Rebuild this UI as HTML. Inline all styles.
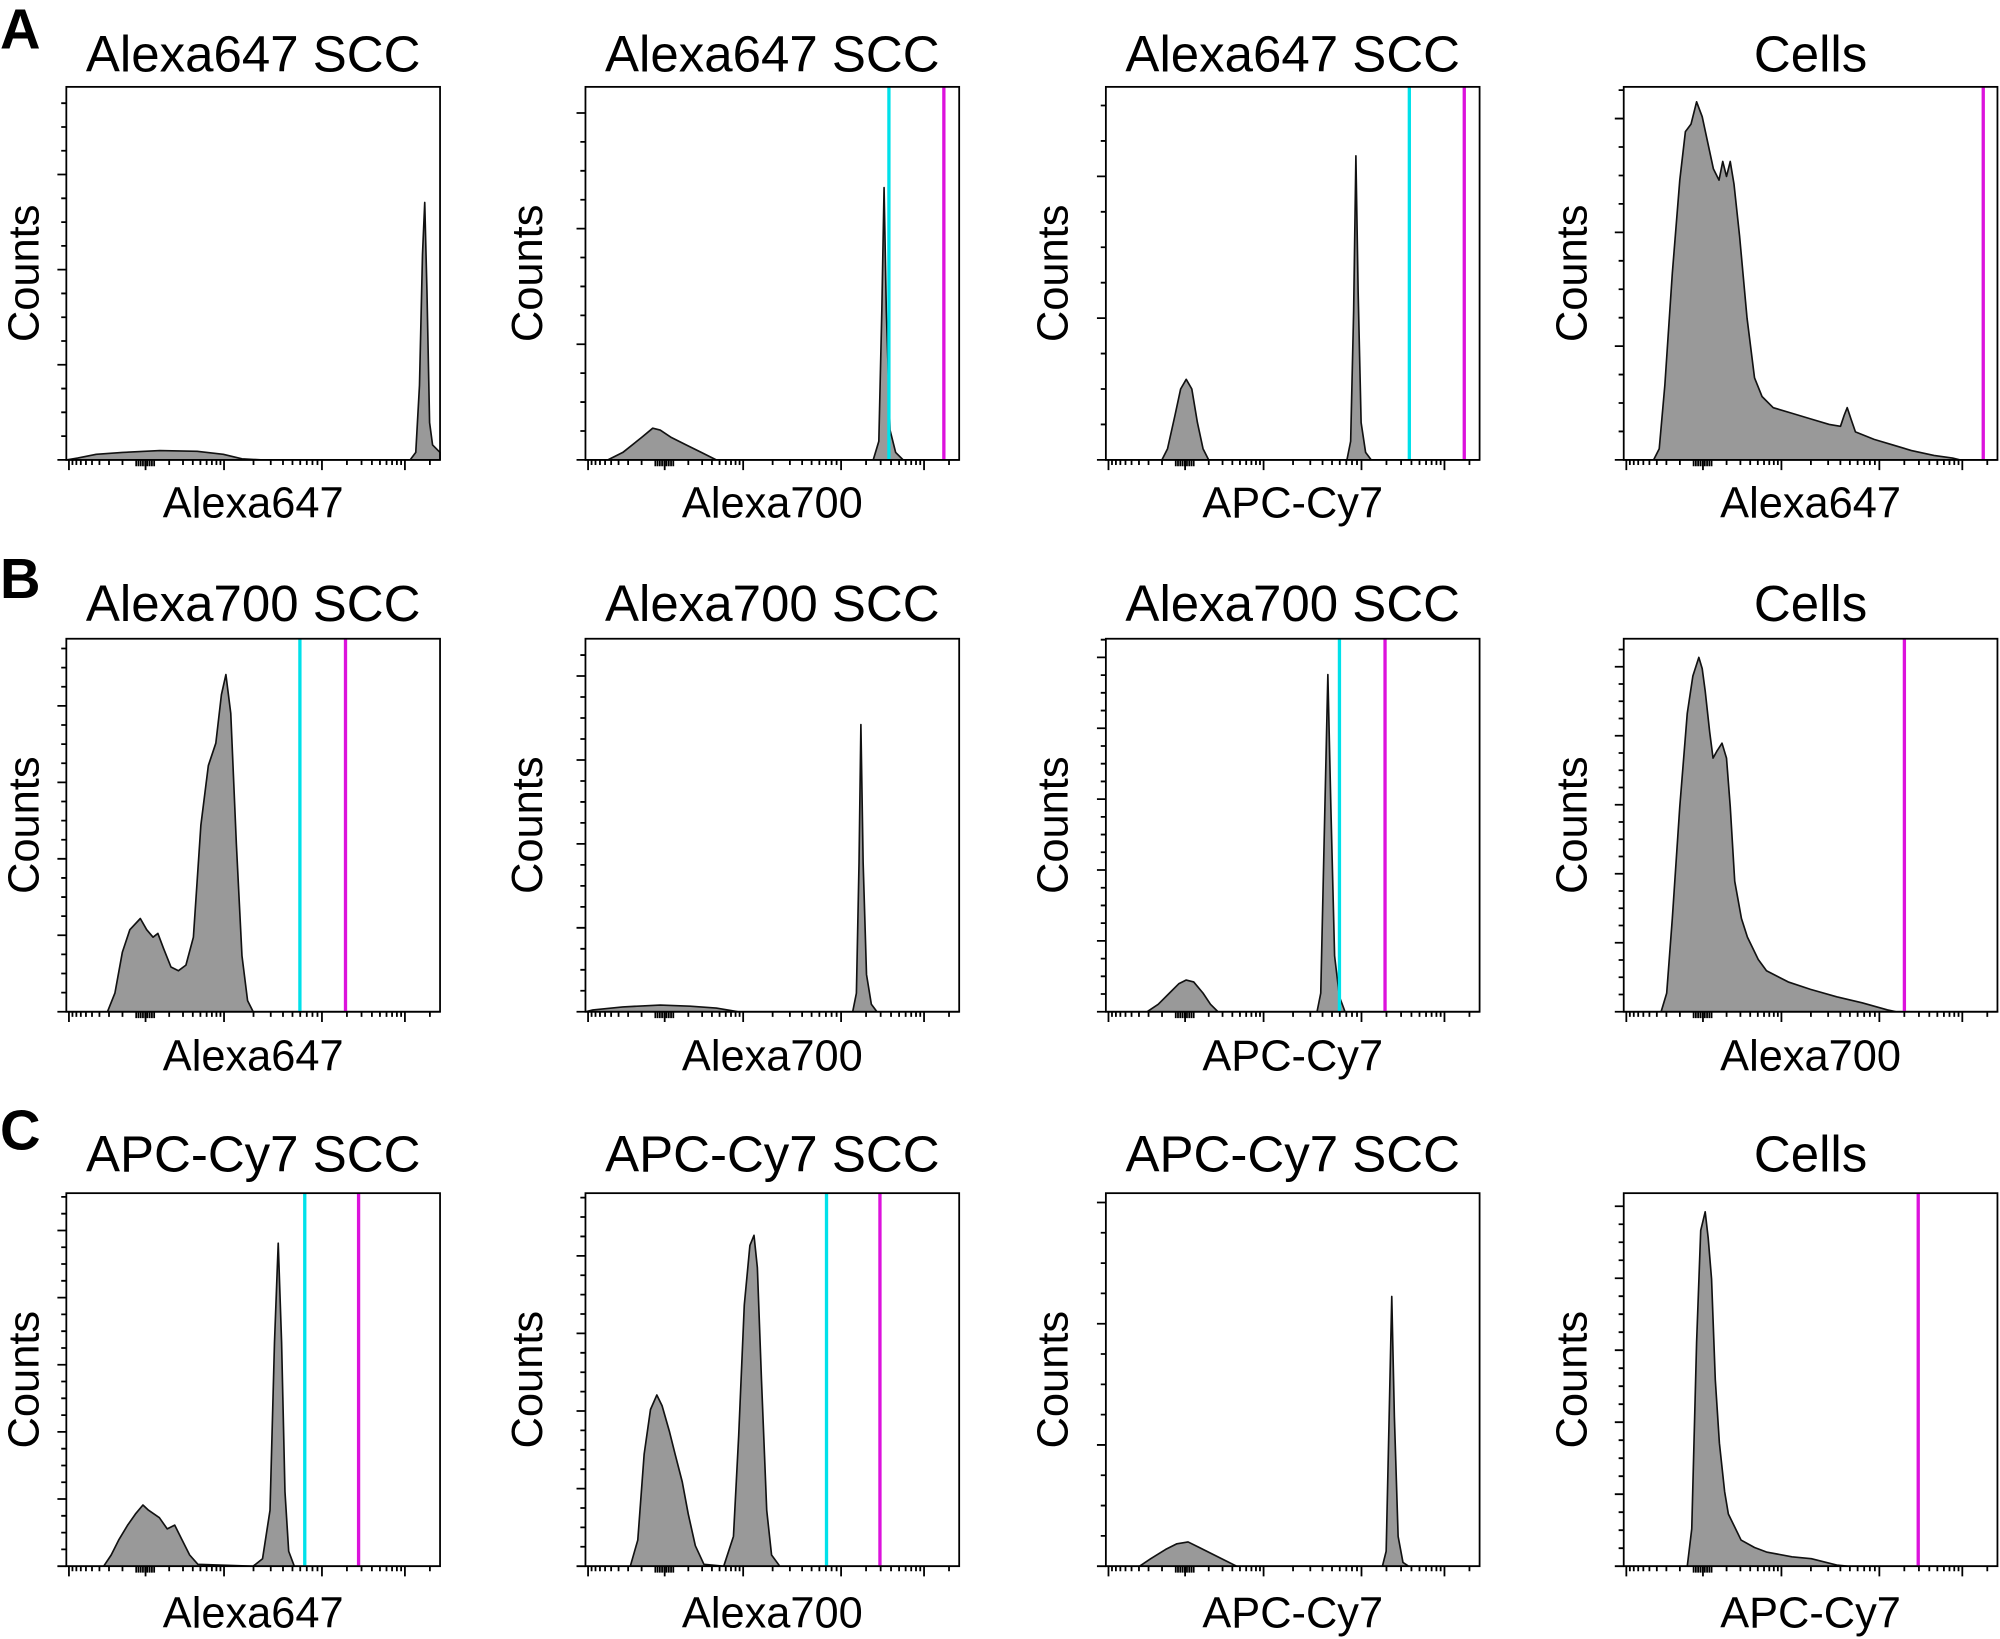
<!DOCTYPE html>
<html><head><meta charset="utf-8"><style>
html,body{margin:0;padding:0;background:#fff}
svg{display:block}
text{font-family:"Liberation Sans",Arial,sans-serif;fill:#000}
</style></head><body>
<svg id="fig" width="2000" height="1639" viewBox="0 0 1568 1283" preserveAspectRatio="none" xmlns="http://www.w3.org/2000/svg"></svg>
<script>
// Panel metadata
const titles = ["Alexa647 SCC","Alexa647 SCC","Alexa647 SCC","Cells","Alexa700 SCC","Alexa700 SCC","Alexa700 SCC","Cells","APC-Cy7 SCC","APC-Cy7 SCC","APC-Cy7 SCC","Cells"];
const xLabels = ["Alexa647","Alexa700","APC-Cy7","Alexa647","Alexa647","Alexa700","APC-Cy7","Alexa700","Alexa647","Alexa700","APC-Cy7","APC-Cy7"];
const rowLetters = ["A","B","C"];
// Threshold gates (channel units 0-100); null = absent
const cyanGates = [null,81.2,81.2,null,62.5,null,62.5,null,63.8,64.5,null,null];
const magentaGates = [null,95.9,95.9,96.2,74.7,null,74.7,75.1,78.2,78.8,null,78.8];
// Y major tick spacing (percent of max counts)
const yMajorSteps = [25.5,31,38,30.5,20.5,22.5,19,18.5,18,20.8,32.5,19.3];
// X axis major decade positions (channel units)
const xMajors = [0.7,21.2,42.2,68.4,90.6];
// Histogram series: channel values and counts (percent of axis max)
const hx0=[0,3,8,15,25,35,42,47,52,92,93.5,94.5,95.3,95.9,96.5,97.2,98,100];
const hy0=[0,0.5,1.5,2,2.5,2.3,1.5,0.3,0,0,2,20,55,69,45,10,4,2];
const hx1=[0,6,10,15,18,20,23,27,31,35,77,78.5,79.3,79.9,80.5,81.5,83,85,100];
const hy1=[0,0,2,6,8.5,8,6,4,2,0,0,5,40,73,40,8,2,0,0];
const hx2=[0,15,16.5,18.5,20,21.5,23,24.5,26,27.5,64.5,65.5,66.3,66.9,67.5,68.3,69.5,71,100];
const hy2=[0,0,3,12,19,21.6,19,10,3,0,0,5,40,81.5,45,10,2,0,0];
const hx3=[0,8,9.5,11,13,15,16.5,18,19.5,21,22.5,24,25.5,26.5,27.5,28.5,29.5,31,33,35,37,40,45,50,55,58,59,59.8,60.8,62,67,72,77,83,88,90,100];
const hy3=[0,0,3,20,50,75,88,90,96,92,85,78,75,80,76,80,74,60,38,22,17,14,12.5,11,9.5,9,12,14,11,7.5,5.5,4,2.5,1.2,0.5,0,0];
const hx4=[0,11,13,15,17,19.8,21.5,23.2,24.5,26,28,30,32,34,36,38,40,41.5,42.7,44,45.5,47,48.5,50,100];
const hy4=[0,0,5,16,22,25,22,20,21,17,12,11,12.5,20,50,66,72,85,90.4,80,45,15,3,0,0];
const hx5=[0,2,10,20,28,35,41,71.5,72.5,73.2,73.7,74.3,75.2,76.5,78,100];
const hy5=[0,0.5,1.3,1.8,1.5,1,0,0,5,40,77,40,10,2,0,0];
const hx6=[0,11,14,17,19.5,21.5,23.5,26,28,30,56.5,57.5,58.5,59.4,60.2,61.2,62.5,64,100];
const hy6=[0,0,2,5,7.5,8.5,8,5,2,0,0,5,50,90.4,55,15,4,0,0];
const hx7=[0,10,11.5,13,15,17,18.5,20.1,21,21.8,23,23.9,25,26.3,27.5,28.5,29.7,31.5,33.1,36,38.2,44,50,57,63.8,70.6,73,100];
const hy7=[0,0,5,25,55,80,90,95,92,86,75,68,70,72,68,55,35,25,20,14,11,8,6,4,2.4,0.5,0,0];
const hx8=[0,10,12,14,16.4,18.5,20.5,22,24.9,27,29,31,33,35.2,50,52.5,54.5,55.7,56.7,57.6,58.5,59.5,61,100];
const hy8=[0,0,3,7,11,14,16.4,15,13,10,11,7,3,0.5,0,2,15,60,86.6,60,20,4,0,0];
const hx9=[0,12,14,15.7,17.4,19.1,20.5,22.5,24,25.9,27.5,29.4,31.7,37,39.6,41,42.5,44,45.1,46,47.1,48.5,49.8,52,100];
const hy9=[0,0,7,30,42,45.9,43,36,30,22.6,14,5.5,0.5,0,8,35,70,86,88.7,80,50,15,3,0,0];
const hx10=[0,9,12,16,19,22,25,28,32,35,74,75,75.8,76.5,77.2,78.2,79.5,81,100];
const hy10=[0,0,2,4.5,6,6.5,5,3.5,1.5,0,0,4,40,72.3,40,8,1,0,0];
const hx11=[0,17,18.2,19.5,20.6,21.8,22.6,23.5,24.5,25.6,27,28,31.4,35,38.2,45,50.2,57,60,100];
const hy11=[0,0,10,60,90,95,88,77,50,33,20,14,7,5,3.8,2.5,2,0.3,0,0];
const seriesX=[hx0,hx1,hx2,hx3,hx4,hx5,hx6,hx7,hx8,hx9,hx10,hx11];
const seriesY=[hy0,hy1,hy2,hy3,hy4,hy5,hy6,hy7,hy8,hy9,hy10,hy11];

const NS="http://www.w3.org/2000/svg";
const svg=document.getElementById('fig');
function mk(tag,attrs,parent){const e=document.createElementNS(NS,tag);for(const k in attrs)e.setAttribute(k,attrs[k]);(parent||svg).appendChild(e);return e;}
const colLeft=[52,459,867,1273], rowTop=[68,500,934], W=293, H=292;
const countsOff=[22,34,30,29];
const titleY=[56,486,917], xlabY=[405,838,1274], letterY=[38,468,900];

rowLetters.forEach((L,r)=>{
  const t=mk('text',{x:0,y:letterY[r],'font-size':44,'font-weight':'bold'});
  
  
  t.textContent=L;
});

for(let i=0;i<12;i++){
  const r=Math.floor(i/4), c=i%4;
  const L=colLeft[c], T=rowTop[r], B=T+H, R=L+W;
  const sx=v=>L+v/100*W, sy=v=>B-v/100*H;
  const g=mk('g',{});
  
  
  const tt=mk('text',{x:L+W/2,y:titleY[r],'font-size':40,'text-anchor':'middle'},g);
  
  
  tt.textContent=titles[i];
  const xl=mk('text',{x:L+W/2,y:xlabY[r],'font-size':34,'text-anchor':'middle'},g);
  
  
  xl.textContent=xLabels[i];
  const yl=mk('text',{x:0,y:0,'font-size':34,'text-anchor':'middle',transform:`translate(${L-countsOff[c]},${T+H/2}) rotate(-90)`},g);
  
  
  yl.textContent='Counts';
  // histogram
  const xs=seriesX[i], ys=seriesY[i];
  let d=`M${sx(xs[0])},${sy(0)}`;
  for(let k=0;k<xs.length;k++) d+=` L${sx(xs[k]).toFixed(2)},${sy(ys[k]).toFixed(2)}`;
  d+=` L${sx(xs[xs.length-1])},${sy(0)} Z`;
  const p=mk('path',{d:d,fill:'#999','stroke':'#111','stroke-width':1.3,'stroke-linejoin':'round'},g);
  
  
  // gates
  if(cyanGates[i]!==null){
    const ln=mk('line',{x1:sx(cyanGates[i]),x2:sx(cyanGates[i]),y1:T,y2:B,stroke:'#00e1ea','stroke-width':2.6},g);
    
    
  }
  if(magentaGates[i]!==null){
    const ln=mk('line',{x1:sx(magentaGates[i]),x2:sx(magentaGates[i]),y1:T,y2:B,stroke:'#dc12dc','stroke-width':2.6},g);
    
    
  }
  // box
  const bx=mk('rect',{x:L,y:T,width:W,height:H,fill:'none',stroke:'#000','stroke-width':1.4},g);
  
  
  // y ticks
  let td='';
  const step=yMajorSteps[i];
  for(let v=0;v<=100.01;v+=step/4){
    const k=Math.round(v/(step/4));
    const len=(k%4===0)?7:4;
    td+=`M${L-len},${sy(v).toFixed(2)}H${L}`;
  }
  // x ticks
  for(let m=0;m<xMajors.length;m++){
    td+=`M${sx(xMajors[m])},${B}v8`;
  }
  for(let m=0;m<xMajors.length;m++){
    const a=xMajors[m], b=(m+1<xMajors.length)?xMajors[m+1]:xMajors[m]+22.2;
    for(let k=2;k<=9;k++){
      let v;
      if(m===0) v=b-(b-a)*Math.log10(k); else v=a+(b-a)*Math.log10(k);
      if(v<=100) td+=`M${sx(v).toFixed(2)},${B}v4`;
    }
  }
  for(let v=xMajors[1]-2.5;v<=xMajors[1]+2.5;v+=0.6) td+=`M${sx(v).toFixed(2)},${B}v5`;
  const tk=mk('path',{d:td,stroke:'#000','stroke-width':1.4,fill:'none'},g);
  
  
}
</script>
</body></html>
